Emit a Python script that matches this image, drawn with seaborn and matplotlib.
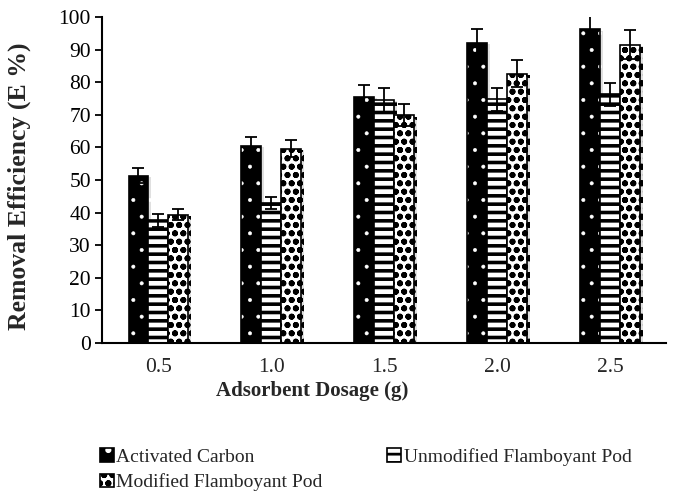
import numpy as np
import pandas as pd
import matplotlib
matplotlib.use("Agg")
import matplotlib.pyplot as plt
import matplotlib.patheffects as pe
from matplotlib.patches import Patch
import seaborn as sns

dosage = ["0.5", "1.0", "1.5", "2.0", "2.5"]
materials = ["Activated Carbon", "Unmodified Flamboyant Pod", "Modified Flamboyant Pod"]
activated_carbon = [51.3, 60.5, 75.4, 92.0, 96.2]
unmodified_pod = [37.6, 43.0, 74.5, 74.7, 76.2]
modified_pod = [39.3, 59.6, 69.8, 82.6, 91.5]
err_activated = [2.3, 2.7, 3.6, 4.4, 4.5]
err_unmodified = [1.9, 1.9, 3.6, 3.6, 3.5]
err_modified = [1.7, 2.7, 3.4, 4.1, 4.5]

values = [activated_carbon, unmodified_pod, modified_pod]
errors = [err_activated, err_unmodified, err_modified]

df = pd.DataFrame({
    "dosage": np.tile(dosage, 3),
    "material": np.repeat(materials, 5),
    "value": np.concatenate(values),
})

sns.set_style("white")
plt.rcParams["font.family"] = ["Liberation Serif", "DejaVu Serif"]
plt.rcParams["hatch.linewidth"] = 2.0

fig = plt.figure(figsize=(6.8, 4.97), dpi=100)
ax = fig.add_axes([0.150, 0.310, 0.830, 0.656])

sns.barplot(data=df, x="dosage", y="value", hue="material", order=dosage,
            hue_order=materials, width=0.53, errorbar=None, ax=ax,
            legend=False, saturation=1)

styles = [
    dict(face="black", hatch=".", hcolor="white", hlw=0.4),
    dict(face="white", hatch="--", hcolor="black", hlw=2.6),
    dict(face="white", hatch="oo", hcolor="black", hlw=1.9),
]

shadow = [pe.SimplePatchShadow(offset=(2.0, -1.0), shadow_rgbFace=(0.6, 0.6, 0.6), alpha=0.3),
          pe.Normal()]

def style_patch(p, st):
    p.set_facecolor(st["face"])
    p.set_hatch(st["hatch"])
    p.set_edgecolor("black")
    p.set_linewidth(1.2)
    try:
        p.set_hatchcolor(st["hcolor"])
    except AttributeError:
        p._hatch_color = matplotlib.colors.to_rgba(st["hcolor"])
    try:
        p.set_hatch_linewidth(st["hlw"])
    except AttributeError:
        p._hatch_linewidth = st["hlw"]

for cont, st, errs in zip(ax.containers, styles, errors):
    xs, ys = [], []
    for bar in cont:
        style_patch(bar, st)
        bar.set_path_effects(shadow)
        xs.append(bar.get_x() + bar.get_width() / 2)
        ys.append(bar.get_height())
    ax.errorbar(xs, ys, yerr=errs, fmt="none", ecolor="black",
                elinewidth=1.3, capsize=4.5, capthick=1.3, zorder=5, clip_on=True)

ax.set_ylim(0, 100)
ax.set_yticks(np.arange(0, 101, 10))
ax.set_xlim(-0.5, 4.5)
ax.set_xlabel("Adsorbent Dosage (g)", fontsize=15, fontweight="bold")
ax.set_ylabel("Removal Efficiency (E %)", fontsize=18.5, fontweight="bold")
ax.xaxis.set_label_coords(0.373, -0.118)
ax.yaxis.set_label_coords(-0.125, 0.48)
ax.tick_params(axis="y", which="both", left=True, direction="out", length=5,
               width=1.3, labelsize=15.5, colors="black", pad=3)
ax.tick_params(axis="x", bottom=False, labelsize=15.5, pad=7)
for s in ["top", "right"]:
    ax.spines[s].set_visible(False)
for s in ["left", "bottom"]:
    ax.spines[s].set_color("black")
    ax.spines[s].set_linewidth(1.5)

handles = []
for st, lab in zip(styles, materials):
    h = Patch(label=lab)
    style_patch(h, st)
    handles.append(h)
order = [0, 2, 1]
fig.legend([handles[i] for i in order], [materials[i] for i in order],
           loc="upper left", bbox_to_anchor=(0.147, 0.099), ncol=2,
           frameon=False, fontsize=14, handlelength=0.7, handleheight=0.7,
           handletextpad=0.15, columnspacing=3.3, labelspacing=0.4,
           borderaxespad=0, borderpad=0)

fig.savefig("out.png", dpi=100)
